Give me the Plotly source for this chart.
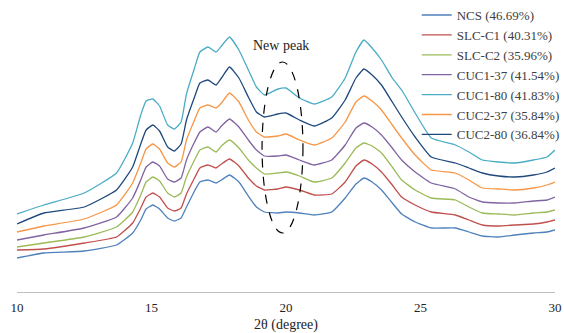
import plotly.graph_objects as go

two_theta = [10.0, 11.0, 12.5, 13.7, 14.3, 14.6, 14.8, 15.05, 15.3, 15.6,
             15.85, 16.1, 16.3, 16.6, 16.8, 17.1, 17.4, 17.6, 17.9, 18.25,
             18.6, 18.9, 19.2, 19.7, 20.0, 20.5, 21.05, 21.7, 22.2, 22.6,
             22.9, 23.2, 23.55, 23.95, 24.3, 24.8, 25.4, 26.3, 26.8, 27.3,
             27.9, 28.5, 29.2, 29.7, 30.0]

ncs = [34, 39, 41, 47, 59, 72, 83, 87, 83, 74,
       71, 74, 85, 101, 110, 112, 109, 112, 117, 110,
       96, 85, 80, 79, 80, 79, 77, 80, 94, 108,
       114, 110, 102, 89, 78, 70, 64, 64, 60, 56,
       55, 57, 59, 60, 62]
slc_c1 = [42, 43, 49, 55, 69, 84, 95, 99, 95, 84,
          81, 84, 98, 114, 124, 127, 124, 128, 133, 126,
          114, 106, 102, 103, 105, 102, 97, 98, 110, 126,
          132, 128, 120, 107, 95, 87, 80, 77, 72, 67,
          66, 67, 68, 70, 72]
slc_c2 = [45, 49, 55, 65, 80, 97, 110, 115, 111, 99,
          95, 99, 115, 132, 142, 145, 140, 146, 152, 144,
          132, 124, 118, 119, 120, 116, 110, 114, 129, 144,
          149, 146, 139, 125, 112, 102, 94, 92, 85, 79,
          78, 77, 79, 80, 82]
cuc1_37 = [52, 57, 64, 75, 94, 112, 125, 130, 126, 113,
           110, 114, 132, 150, 160, 165, 160, 166, 173, 165,
           152, 142, 136, 136, 137, 132, 127, 132, 147, 164,
           169, 165, 157, 144, 132, 120, 109, 103, 95, 90,
           89, 89, 91, 92, 95]
cuc1_80 = [78, 87, 99, 119, 149, 177, 191, 193, 186, 167,
           163, 170, 198, 224, 240, 245, 240, 246, 255, 242,
           222, 205, 197, 203, 204, 194, 188, 195, 214, 240,
           252, 244, 232, 214, 202, 179, 154, 147, 140, 132,
           130, 129, 132, 135, 142]
cuc2_37 = [60, 66, 73, 87, 109, 129, 143, 148, 143, 129,
           125, 130, 152, 172, 184, 187, 184, 189, 199, 190,
           172, 160, 155, 156, 158, 152, 147, 154, 170, 190,
           196, 191, 182, 167, 154, 137, 122, 119, 112, 104,
           103, 102, 104, 107, 110]
cuc2_80 = [68, 79, 85, 102, 125, 148, 162, 167, 161, 145,
           141, 148, 172, 195, 209, 212, 207, 214, 225, 214,
           195, 180, 175, 178, 179, 172, 166, 174, 192, 214,
           223, 217, 207, 190, 175, 155, 135, 129, 124, 119,
           116, 115, 117, 120, 124]

series_names = ["NCS (46.69%)", "SLC-C1 (40.31%)", "SLC-C2 (35.96%)",
                "CUC1-37 (41.54%)", "CUC1-80 (41.83%)", "CUC2-37 (35.84%)",
                "CUC2-80 (36.84%)"]
series_values = [ncs, slc_c1, slc_c2, cuc1_37, cuc1_80, cuc2_37, cuc2_80]
colors = ["#4F81BD", "#C0504D", "#9BBB59", "#8064A2", "#4BACC6", "#F79646", "#1F497D"]

x_ticks = [10, 15, 20, 25, 30]

fig = go.Figure()
for name, vals, col in zip(series_names, series_values, colors):
    fig.add_trace(go.Scatter(x=two_theta, y=vals, mode="lines", name=name,
                             line=dict(color=col, width=1.3, shape="spline", smoothing=0.4)))

serif = "Liberation Serif, Times New Roman, serif"

fig.add_shape(type="circle", xref="x", yref="y", x0=19.11, x1=20.63, y0=59, y1=230,
              line=dict(color="black", width=1.2, dash="dash"))
fig.add_annotation(x=19.8, y=247, text="New peak", showarrow=False,
                   font=dict(family=serif, size=14, color="#222222"))

fig.update_layout(
    width=564, height=333,
    margin=dict(l=17, r=9, t=8, b=41, autoexpand=False),
    paper_bgcolor="white", plot_bgcolor="white",
    font=dict(family=serif, size=13, color="#222222"),
    showlegend=True,
    legend=dict(x=0.743, y=1.028, xanchor="left", yanchor="top",
                bgcolor="rgba(0,0,0,0)", font=dict(family=serif, size=13, color="#404040"),
                tracegroupgap=0),
    xaxis=dict(range=[10, 30], tickvals=x_ticks, showgrid=False, zeroline=False,
               showline=True, linecolor="#BFBFBF", linewidth=1, ticks="",
               automargin=False, ticklabelstandoff=3, ticklabeloverflow="allow",
               tickfont=dict(family=serif, size=13, color="#222222"),
               title=dict(text="2θ (degree)", font=dict(family=serif, size=14, color="#222222"), standoff=6)),
    yaxis=dict(range=[0, 284], visible=False, showgrid=False, zeroline=False, automargin=False),
)

fig.write_html("out.html", config={"displayModeBar": False},
               post_script="document.body.style.margin='0';document.body.style.overflow='hidden';")
